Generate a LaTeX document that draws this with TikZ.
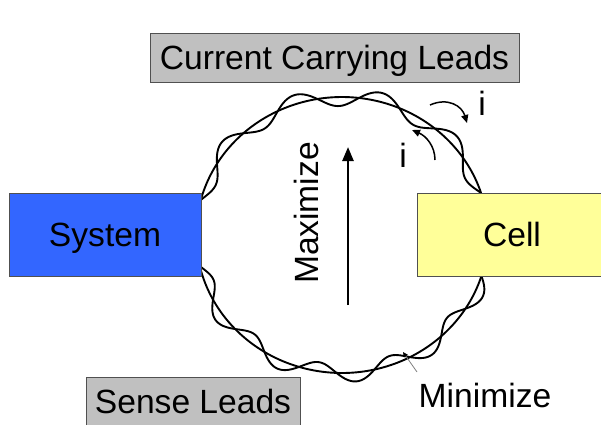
\documentclass[tikz,border=0pt]{standalone}
\usepackage{fontspec}
\setmainfont{Liberation Sans}
\usetikzlibrary{arrows.meta}
\definecolor{sysblue}{RGB}{51,102,255}
\definecolor{cellyellow}{RGB}{255,255,153}
\definecolor{leadgray}{RGB}{192,192,192}
\definecolor{edgegray}{RGB}{80,80,80}
\tikzset{
  box/.style={draw=edgegray, line width=1pt, inner sep=0pt, anchor=center,
              text height=24pt, text depth=0pt,
              font=\fontsize{33.6}{40}\selectfont},
  wire/.style={line width=1.9pt, black, line join=round},
  lbl/.style={inner sep=0pt, font=\fontsize{33.6}{40}\selectfont},
  curarrow/.style={line width=1.5pt, -{Triangle[length=8pt,width=7pt]}},
}
\begin{document}
\begin{tikzpicture}[x=1pt,y=-1pt]
\useasboundingbox (0,0) rectangle (601,424);
\def\cx{342}\def\cy{235}\def\rx{146}\def\ry{138}
% smooth leads
\draw[wire] plot[domain=17.7:165.3, samples=120] ({\cx+\rx*cos(\x)},{\cy-\ry*sin(\x)});
\draw[wire] plot[domain=193:342.7, samples=120] ({\cx+\rx*cos(\x)},{\cy-\ry*sin(\x)});
% twisted leads
\draw[wire] plot[domain=17.7:165.3, samples=400, smooth]
  ({\cx+(\rx-9*sin(10.976*(165.3-\x)))*cos(\x)},{\cy-(\ry-9*sin(10.976*(165.3-\x)))*sin(\x)});
\draw[wire] plot[domain=193:342.7, samples=400, smooth]
  ({\cx+(\rx-9*sin(12.024*(\x-193)))*cos(\x)},{\cy-(\ry-9*sin(12.024*(\x-193)))*sin(\x)});
% boxes
\node[box, fill=leadgray, minimum width=369pt, minimum height=49pt] (ccl) at (334.5,57.5) {Current Carrying Leads};
\node[box, fill=sysblue, minimum width=192pt, minimum height=83pt] (sys) at (105,234.5) {System};
\node[box, fill=cellyellow, minimum width=190pt, minimum height=83pt] (cell) at (512,234.5) {Cell};
\node[box, fill=leadgray, minimum width=214pt, minimum height=49pt] (sense) at (193,401.5) {Sense Leads};
% labels
\node[lbl, rotate=90] (maxi) at (306,213) {Maximize};
\node[lbl] (mini) at (485,395) {Minimize};
\node[lbl] (i1) at (482,103) {i};
\node[lbl] (i2) at (403,155) {i};
% maximize arrow
\coordinate (mxa) at (348,305);
\coordinate (mxb) at (348,147);
\draw[line width=2.5pt, -{Triangle[length=14pt,width=11pt]}] (mxa) -- (mxb);
% current arrows
\coordinate (a1s) at (430,105);
\coordinate (a1e) at (467,123);
\draw[curarrow] (a1s) .. controls (448,97) and (462,106) .. (a1e);
\coordinate (a2s) at (435,160);
\coordinate (a2e) at (412,130);
\draw[curarrow] (a2s) .. controls (435,146) and (426,136) .. (a2e);
% minimize pointer
\coordinate (mps) at (417,372);
\coordinate (mp) at (403,352);
\draw[gray, line width=0.8pt, -{Triangle[length=5pt,width=4.5pt,black]}] (mps) -- (mp);
\end{tikzpicture}
\end{document}
